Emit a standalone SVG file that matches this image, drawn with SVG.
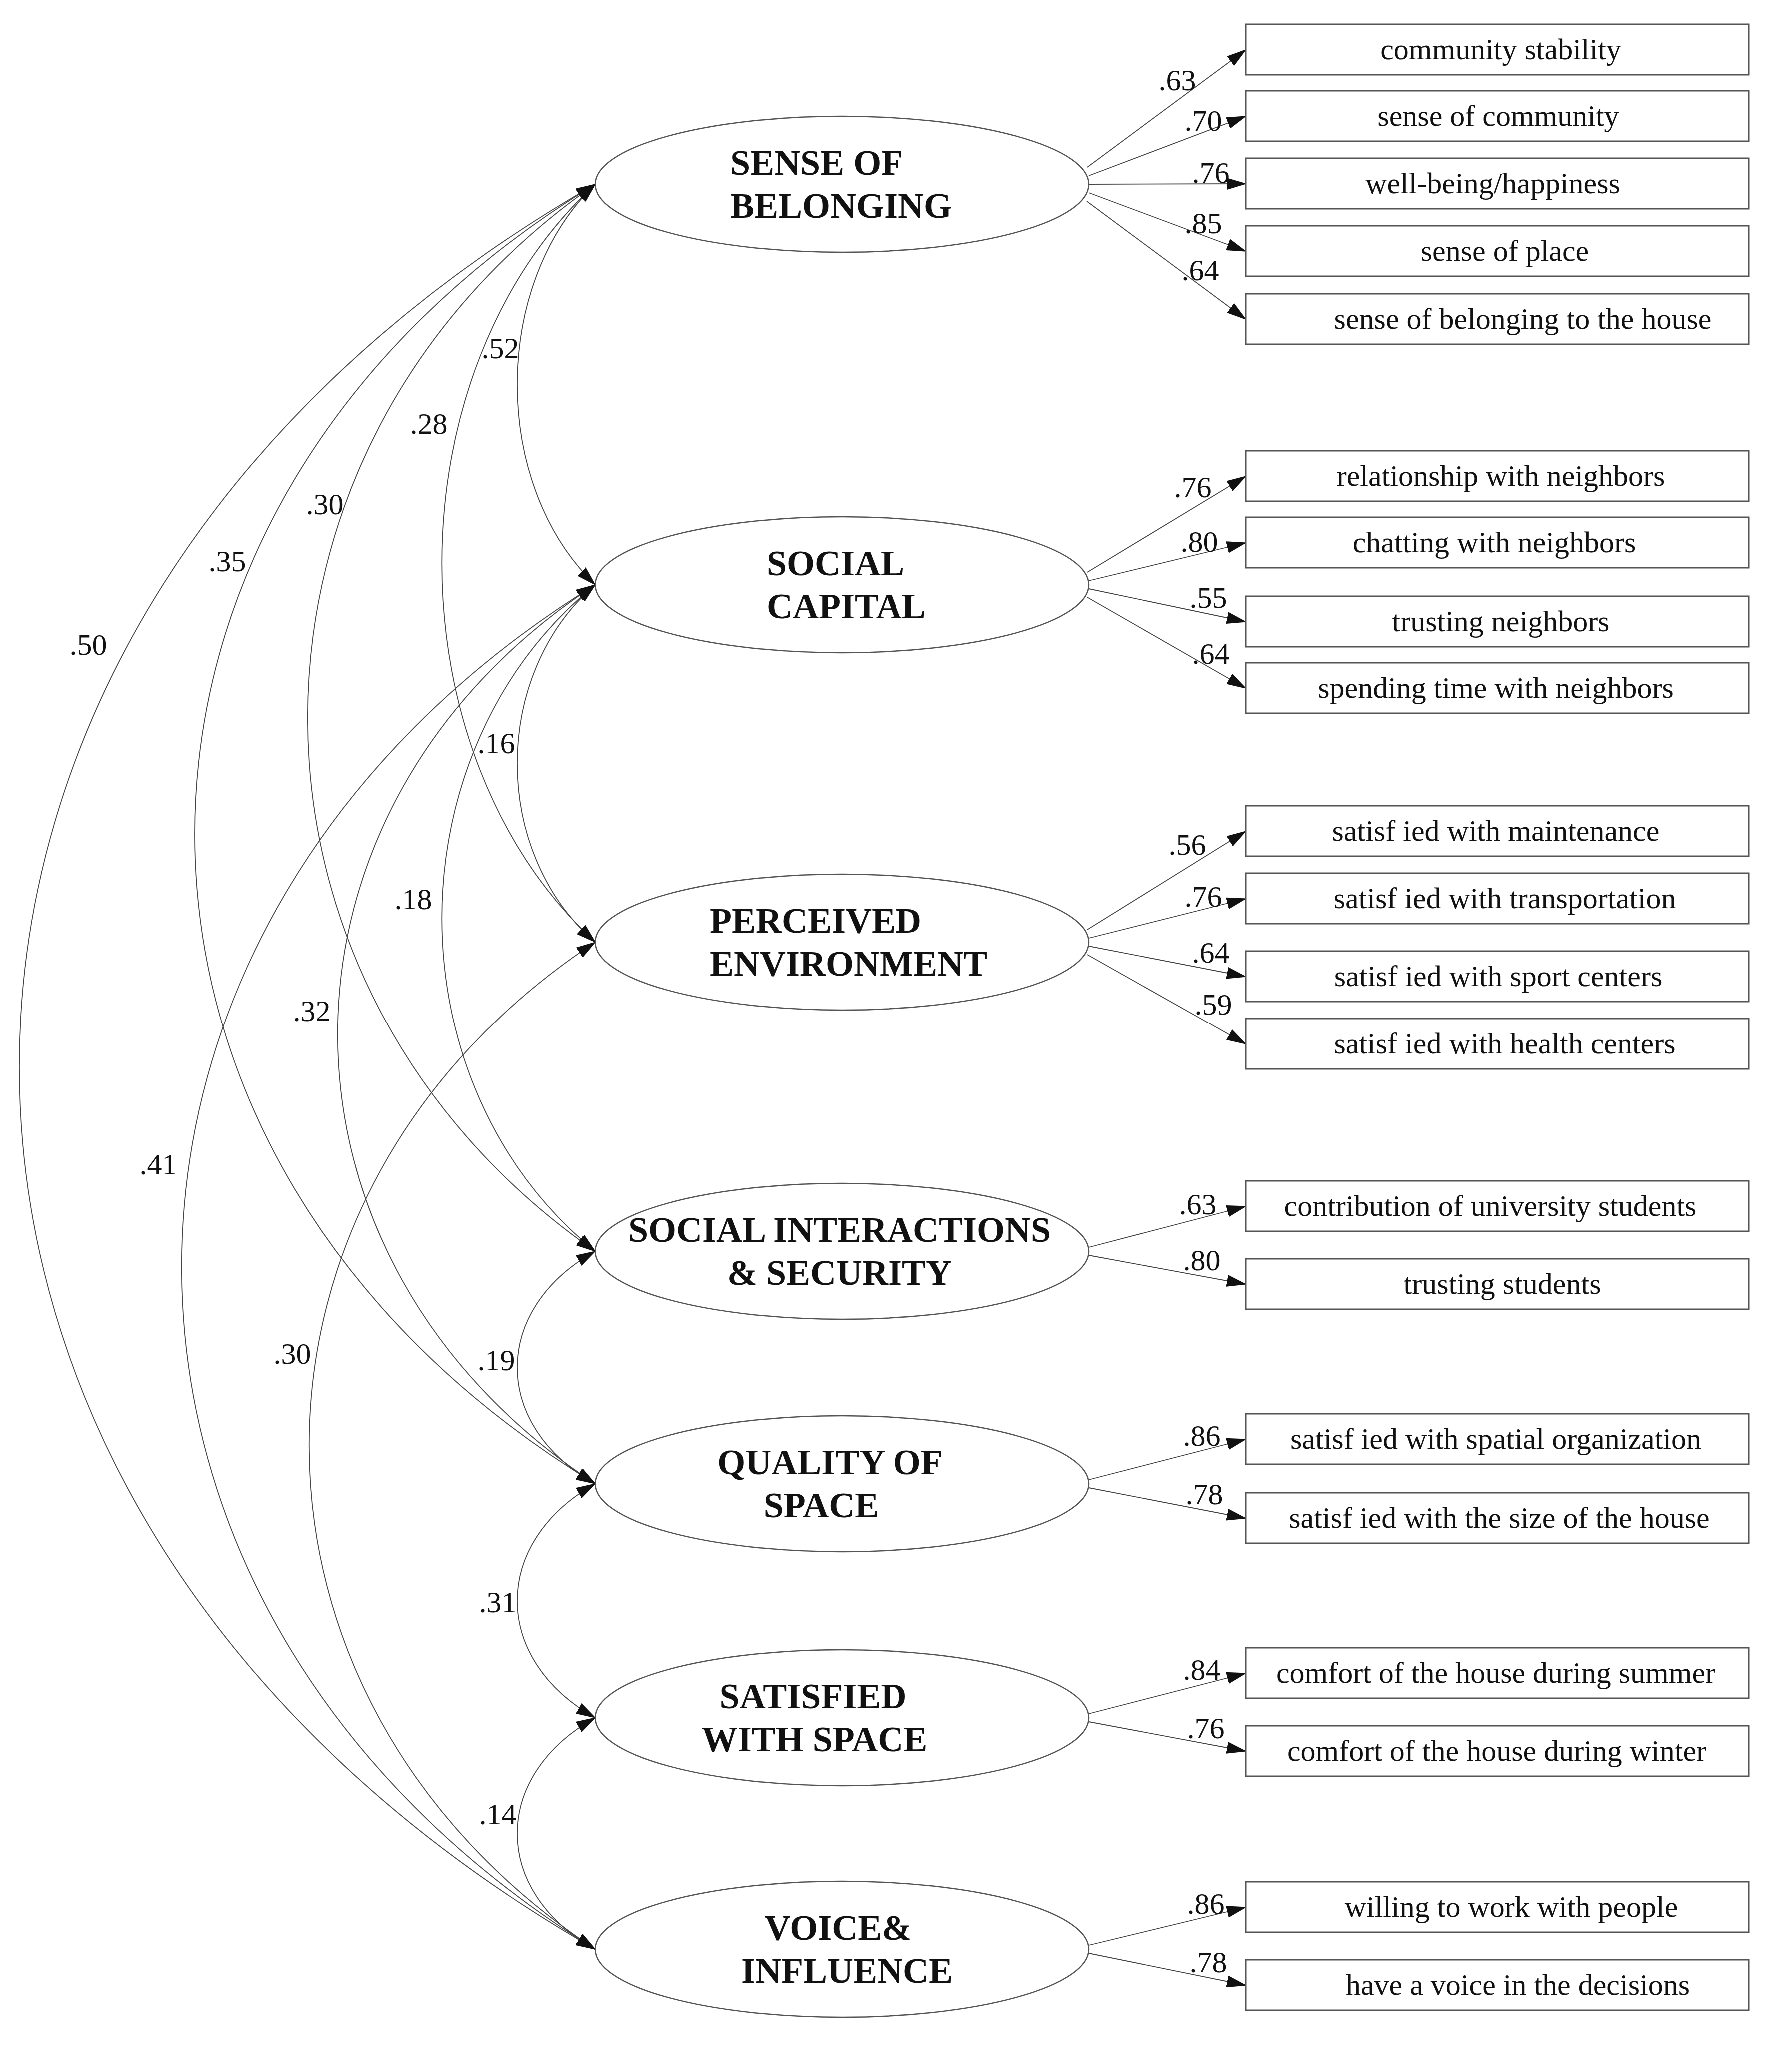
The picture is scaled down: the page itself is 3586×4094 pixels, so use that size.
<svg xmlns="http://www.w3.org/2000/svg" width="3586" height="4094" viewBox="0 0 3586 4094">
<style>
.e{fill:#fff;stroke:#555;stroke-width:2.5}
.b{fill:#fff;stroke:#555;stroke-width:3}
.l{fill:none;stroke:#444;stroke-width:1.8}
.t{font-family:"Liberation Serif",serif;font-size:60px;fill:#111;text-anchor:middle}
.n{font-family:"Liberation Serif",serif;font-size:60px;fill:#111;text-anchor:middle}
.h{font-family:"Liberation Serif",serif;font-size:72px;font-weight:bold;fill:#111}
</style>
<defs>
<marker id="a" markerUnits="userSpaceOnUse" markerWidth="40" markerHeight="24" refX="38" refY="12" orient="auto-start-reverse" viewBox="0 0 40 24"><path d="M0,0 L40,12 L0,24 z" fill="#111"/></marker>
</defs>
<rect width="3586" height="4094" fill="#fff"/>
<g id="connectors">
<path class="l" marker-start="url(#a)" marker-end="url(#a)" d="M1191,369 C983,569 983,970 1191,1170"/>
<path class="l" marker-start="url(#a)" marker-end="url(#a)" d="M1191,369 C782,748 782,1506 1191,1885"/>
<path class="l" marker-start="url(#a)" marker-end="url(#a)" d="M1191,369 C424,903 424,1970 1191,2504"/>
<path class="l" marker-start="url(#a)" marker-end="url(#a)" d="M1191,369 C123,1019 123,2319 1191,2969"/>
<path class="l" marker-start="url(#a)" marker-end="url(#a)" d="M1191,369 C-345,1252 -345,3017 1191,3900"/>
<path class="l" marker-start="url(#a)" marker-end="url(#a)" d="M1191,1170 C983,1349 983,1706 1191,1885"/>
<path class="l" marker-start="url(#a)" marker-end="url(#a)" d="M1191,1170 C782,1504 782,2171 1191,2504"/>
<path class="l" marker-start="url(#a)" marker-end="url(#a)" d="M1191,1170 C504,1620 504,2519 1191,2969"/>
<path class="l" marker-start="url(#a)" marker-end="url(#a)" d="M1191,1170 C88,1853 88,3218 1191,3900"/>
<path class="l" marker-start="url(#a)" marker-end="url(#a)" d="M1191,1885 C428,2389 428,3396 1191,3900"/>
<path class="l" marker-start="url(#a)" marker-end="url(#a)" d="M1191,2504 C983,2620 983,2853 1191,2969"/>
<path class="l" marker-start="url(#a)" marker-end="url(#a)" d="M1191,2969 C983,3086 983,3320 1191,3437"/>
<path class="l" marker-start="url(#a)" marker-end="url(#a)" d="M1191,3437 C983,3553 983,3784 1191,3900"/>
<!-- loadings -->
<path class="l" marker-end="url(#a)" d="M2176,335 L2493,100"/>
<path class="l" marker-end="url(#a)" d="M2179,352 L2493,233"/>
<path class="l" marker-end="url(#a)" d="M2180,369 L2493,368"/>
<path class="l" marker-end="url(#a)" d="M2179,386 L2493,503"/>
<path class="l" marker-end="url(#a)" d="M2175,403 L2493,639"/>
<path class="l" marker-end="url(#a)" d="M2176,1145 L2493,953"/>
<path class="l" marker-end="url(#a)" d="M2179,1162 L2493,1086"/>
<path class="l" marker-end="url(#a)" d="M2179,1178 L2493,1244"/>
<path class="l" marker-end="url(#a)" d="M2176,1195 L2493,1377"/>
<path class="l" marker-end="url(#a)" d="M2176,1860 L2493,1663"/>
<path class="l" marker-end="url(#a)" d="M2179,1877 L2493,1798"/>
<path class="l" marker-end="url(#a)" d="M2179,1893 L2493,1954"/>
<path class="l" marker-end="url(#a)" d="M2176,1910 L2493,2089"/>
<path class="l" marker-end="url(#a)" d="M2179,2496 L2493,2414"/>
<path class="l" marker-end="url(#a)" d="M2179,2512 L2493,2570"/>
<path class="l" marker-end="url(#a)" d="M2179,2961 L2493,2880"/>
<path class="l" marker-end="url(#a)" d="M2179,2977 L2493,3038"/>
<path class="l" marker-end="url(#a)" d="M2179,3429 L2493,3348"/>
<path class="l" marker-end="url(#a)" d="M2179,3445 L2493,3504"/>
<path class="l" marker-end="url(#a)" d="M2179,3892 L2493,3816"/>
<path class="l" marker-end="url(#a)" d="M2179,3908 L2493,3972"/>
</g>
<g id="cov-labels">
<text class="n" x="1001" y="717">.52</text>
<text class="n" x="858" y="868">.28</text>
<text class="n" x="650" y="1029">.30</text>
<text class="n" x="455" y="1143">.35</text>
<text class="n" x="177" y="1310">.50</text>
<text class="n" x="993" y="1507">.16</text>
<text class="n" x="827" y="1819">.18</text>
<text class="n" x="624" y="2043">.32</text>
<text class="n" x="317" y="2350">.41</text>
<text class="n" x="585" y="2729">.30</text>
<text class="n" x="993" y="2742">.19</text>
<text class="n" x="996" y="3226">.31</text>
<text class="n" x="996" y="3650">.14</text>
</g>
<g id="load-labels">
<text class="n" x="2356" y="181">.63</text>
<text class="n" x="2408" y="262">.70</text>
<text class="n" x="2423" y="366">.76</text>
<text class="n" x="2408" y="467">.85</text>
<text class="n" x="2402" y="561">.64</text>
<text class="n" x="2387" y="995">.76</text>
<text class="n" x="2400" y="1104">.80</text>
<text class="n" x="2418" y="1216">.55</text>
<text class="n" x="2423" y="1328">.64</text>
<text class="n" x="2376" y="1710">.56</text>
<text class="n" x="2408" y="1814">.76</text>
<text class="n" x="2423" y="1926">.64</text>
<text class="n" x="2428" y="2030">.59</text>
<text class="n" x="2397" y="2430">.63</text>
<text class="n" x="2405" y="2542">.80</text>
<text class="n" x="2405" y="2893">.86</text>
<text class="n" x="2410" y="3010">.78</text>
<text class="n" x="2405" y="3361">.84</text>
<text class="n" x="2413" y="3478">.76</text>
<text class="n" x="2413" y="3829">.86</text>
<text class="n" x="2418" y="3946">.78</text>
</g>
<g id="sense-of-belonging"><ellipse class="e" cx="1685" cy="369" rx="494" ry="136"/><text class="h" x="1461" y="350">SENSE OF</text><text class="h" x="1461" y="436">BELONGING</text></g>
<g id="social-capital"><ellipse class="e" cx="1685" cy="1170" rx="494" ry="136"/><text class="h" x="1534" y="1151">SOCIAL</text><text class="h" x="1534" y="1237">CAPITAL</text></g>
<g id="perceived-environment"><ellipse class="e" cx="1685" cy="1885" rx="494" ry="136"/><text class="h" x="1420" y="1866">PERCEIVED</text><text class="h" x="1420" y="1952">ENVIRONMENT</text></g>
<g id="social-interactions"><ellipse class="e" cx="1685" cy="2504" rx="494" ry="136"/><text class="h" x="1680" y="2485" text-anchor="middle">SOCIAL INTERACTIONS</text><text class="h" x="1680" y="2571" text-anchor="middle">&amp; SECURITY</text></g>
<g id="quality-of-space"><ellipse class="e" cx="1685" cy="2969" rx="494" ry="136"/><text class="h" x="1661" y="2950" text-anchor="middle">QUALITY OF</text><text class="h" x="1643" y="3036" text-anchor="middle">SPACE</text></g>
<g id="satisfied-with-space"><ellipse class="e" cx="1685" cy="3437" rx="494" ry="136"/><text class="h" x="1627" y="3418" text-anchor="middle">SATISFIED</text><text class="h" x="1630" y="3504" text-anchor="middle">WITH SPACE</text></g>
<g id="voice-influence"><ellipse class="e" cx="1685" cy="3900" rx="494" ry="136"/><text class="h" x="1677" y="3881" text-anchor="middle">VOICE&amp;</text><text class="h" x="1695" y="3967" text-anchor="middle">INFLUENCE</text></g>
<g id="obs-1"><rect class="b" x="2493" y="49" width="1006" height="101"/><text class="t" x="3003" y="119">community stability</text></g>
<g id="obs-2"><rect class="b" x="2493" y="182" width="1006" height="101"/><text class="t" x="2998" y="252">sense of  community</text></g>
<g id="obs-3"><rect class="b" x="2493" y="317" width="1006" height="101"/><text class="t" x="2987" y="387">well-being/happiness</text></g>
<g id="obs-4"><rect class="b" x="2493" y="452" width="1006" height="101"/><text class="t" x="3011" y="522">sense of place</text></g>
<g id="obs-5"><rect class="b" x="2493" y="588" width="1006" height="101"/><text class="t" x="3047" y="658">sense of belonging to the house</text></g>
<g id="obs-6"><rect class="b" x="2493" y="902" width="1006" height="101"/><text class="t" x="3003" y="972">relationship with neighbors</text></g>
<g id="obs-7"><rect class="b" x="2493" y="1035" width="1006" height="101"/><text class="t" x="2990" y="1105">chatting with neighbors</text></g>
<g id="obs-8"><rect class="b" x="2493" y="1193" width="1006" height="101"/><text class="t" x="3003" y="1263">trusting neighbors</text></g>
<g id="obs-9"><rect class="b" x="2493" y="1326" width="1006" height="101"/><text class="t" x="2993" y="1396">spending time with neighbors</text></g>
<g id="obs-10"><rect class="b" x="2493" y="1612" width="1006" height="101"/><text class="t" x="2993" y="1682">satisf ied with maintenance</text></g>
<g id="obs-11"><rect class="b" x="2493" y="1747" width="1006" height="101"/><text class="t" x="3011" y="1817">satisf ied with transportation</text></g>
<g id="obs-12"><rect class="b" x="2493" y="1903" width="1006" height="101"/><text class="t" x="2998" y="1973">satisf ied with sport centers</text></g>
<g id="obs-13"><rect class="b" x="2493" y="2038" width="1006" height="101"/><text class="t" x="3011" y="2108">satisf ied with health centers</text></g>
<g id="obs-14"><rect class="b" x="2493" y="2363" width="1006" height="101"/><text class="t" x="2982" y="2433">contribution of university students</text></g>
<g id="obs-15"><rect class="b" x="2493" y="2519" width="1006" height="101"/><text class="t" x="3006" y="2589">trusting students</text></g>
<g id="obs-16"><rect class="b" x="2493" y="2829" width="1006" height="101"/><text class="t" x="2993" y="2899">satisf ied with spatial organization</text></g>
<g id="obs-17"><rect class="b" x="2493" y="2987" width="1006" height="101"/><text class="t" x="3000" y="3057">satisf ied with the size of the house</text></g>
<g id="obs-18"><rect class="b" x="2493" y="3297" width="1006" height="101"/><text class="t" x="2993" y="3367">comfort of the house during summer</text></g>
<g id="obs-19"><rect class="b" x="2493" y="3453" width="1006" height="101"/><text class="t" x="2995" y="3523">comfort of the house during winter</text></g>
<g id="obs-20"><rect class="b" x="2493" y="3765" width="1006" height="101"/><text class="t" x="3024" y="3835">willing to work with people</text></g>
<g id="obs-21"><rect class="b" x="2493" y="3921" width="1006" height="101"/><text class="t" x="3037" y="3991">have a voice in the decisions</text></g>
</svg>
